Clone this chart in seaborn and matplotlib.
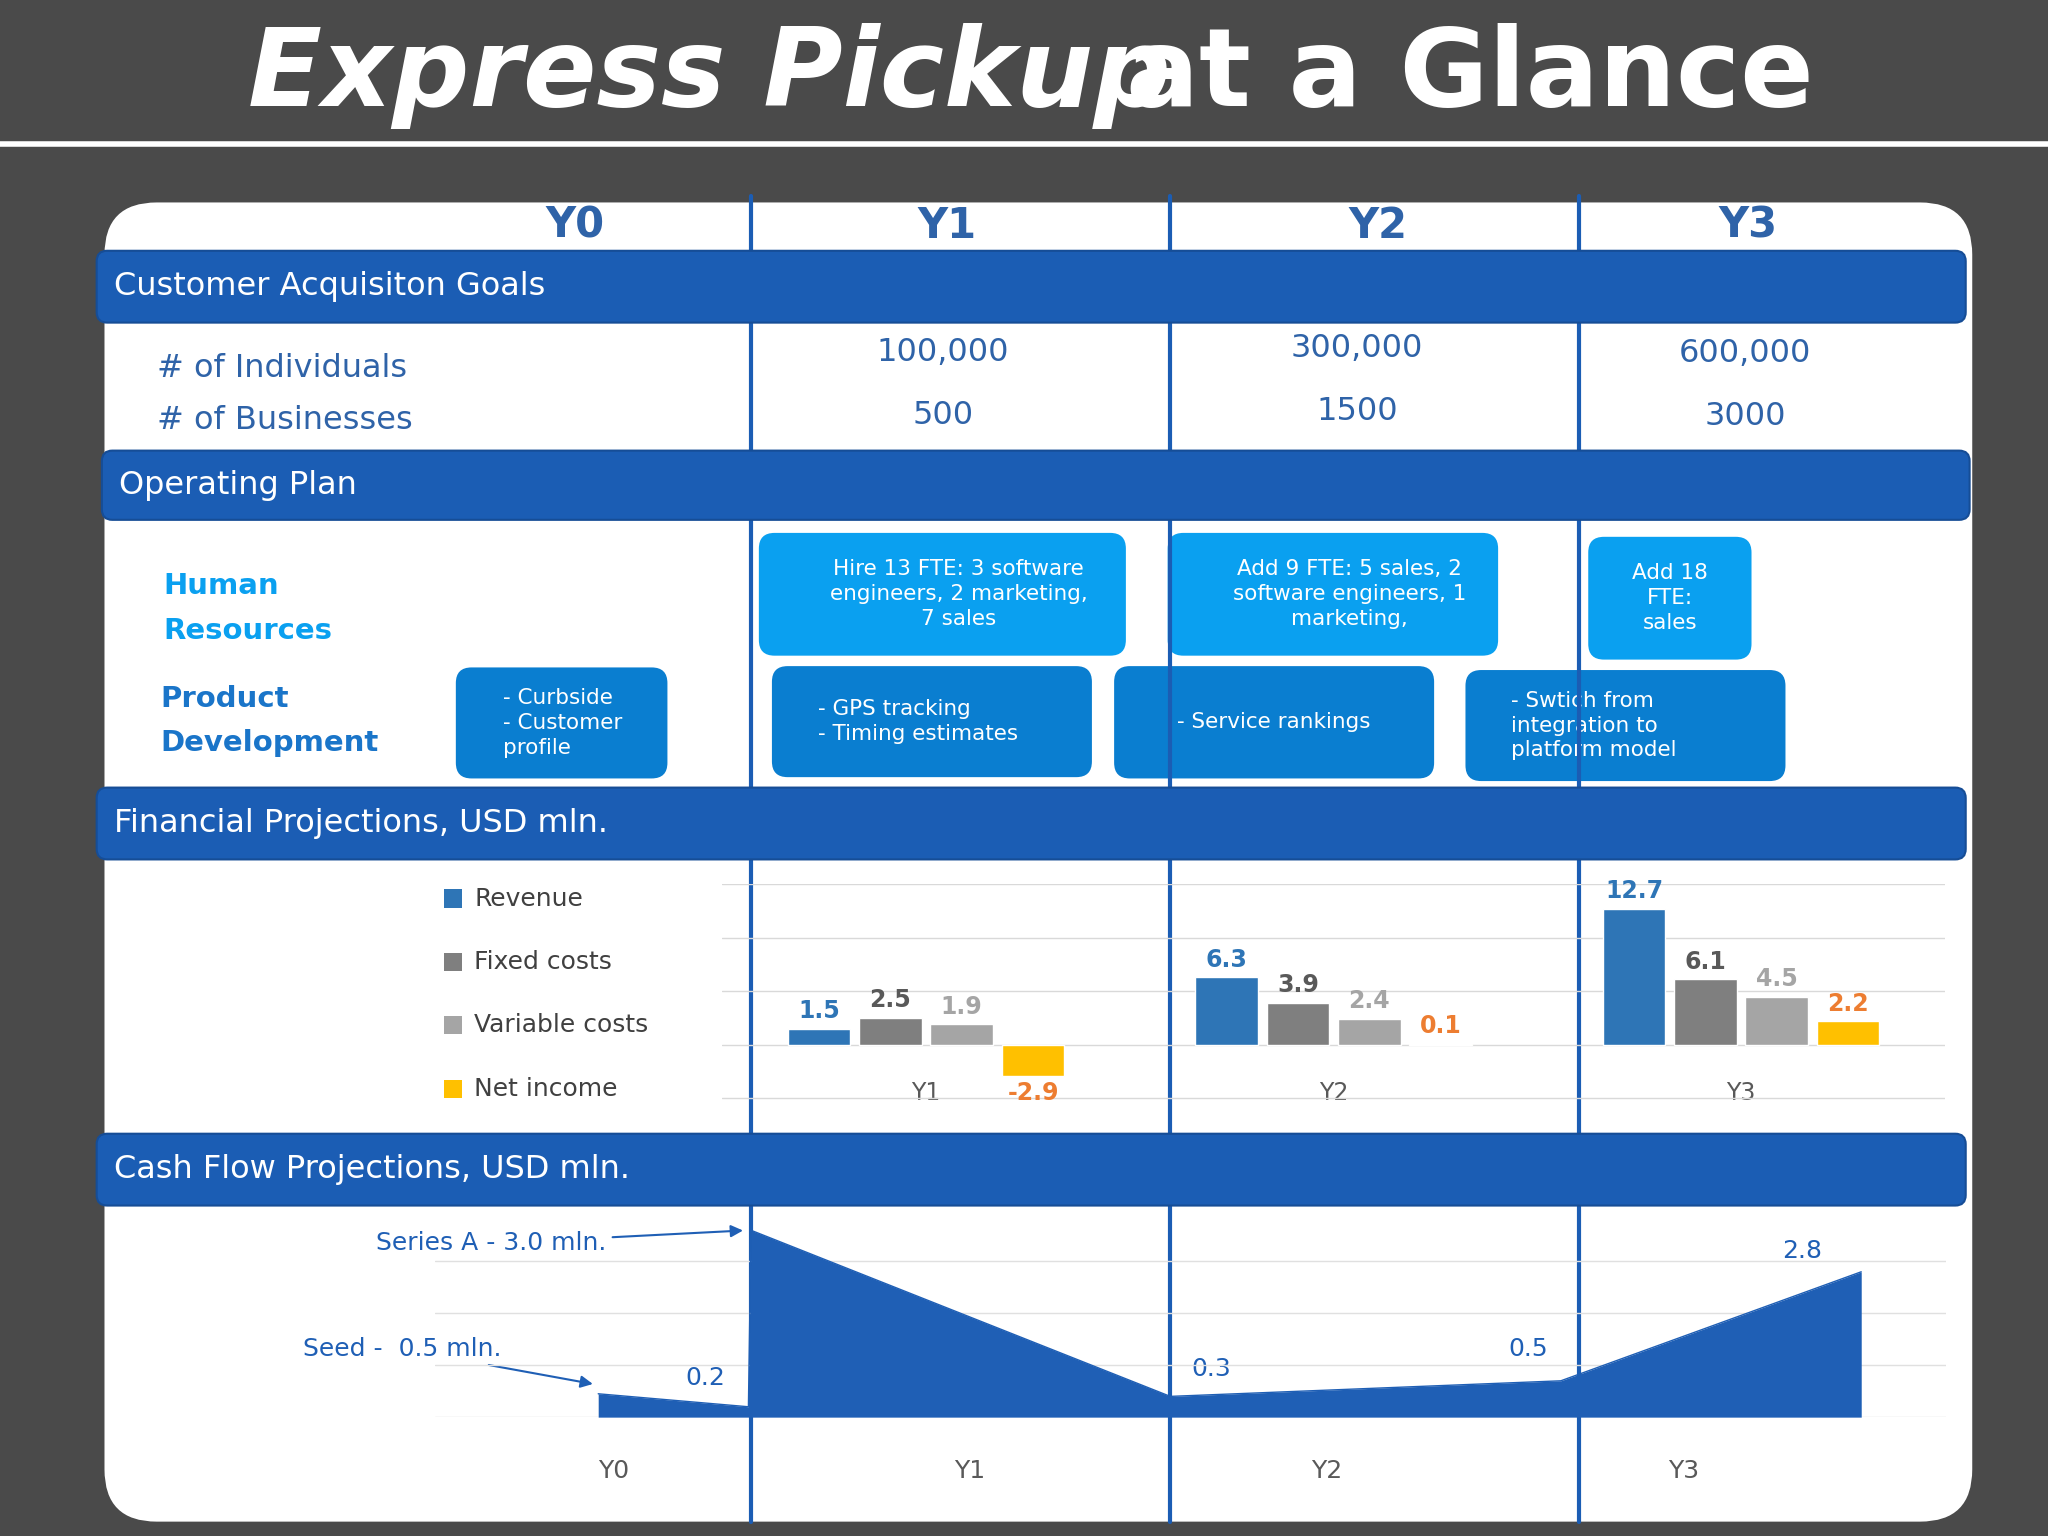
import numpy as np
import pandas as pd
import matplotlib
matplotlib.use("Agg")
from matplotlib import pyplot as plt
from matplotlib.patches import FancyBboxPatch, Rectangle
import seaborn as sns

sns.set_theme(style="white")
plt.rcParams['font.family'] = ['DejaVu Sans']

# ---- data ----
years = ["Y0", "Y1", "Y2", "Y3"]
individuals = ["100,000", "300,000", "600,000"]
businesses = ["500", "1500", "3000"]

bar_years = ["Y1", "Y2", "Y3"]
bar_series = ["Revenue", "Fixed costs", "Variable costs", "Net income"]
revenue = [1.5, 6.3, 12.7]
fixed_costs = [2.5, 3.9, 6.1]
variable_costs = [1.9, 2.4, 4.5]
net_income = [-2.9, 0.1, 2.2]

# cash flow outline (x in layout units, y in USD mln)
cash_x = [458, 573, 575, 896, 1195, 1425]
cash_y = [0.45, 0.2, 3.6, 0.4, 0.7, 2.8]
cash_labels = ["0.2", "0.3", "0.5", "2.8"]
cash_year_x = [470, 742, 1016, 1289]

W, H = 1568, 1176
BLUE = "#1b5db4"
fig = plt.figure(figsize=(20.48, 15.36), dpi=100)
fig.patch.set_facecolor("#4a4a4a")
bg = fig.add_axes([0, 0, 1, 1])
bg.set_xlim(0, W)
bg.set_ylim(H, 0)
bg.axis("off")

def frac(x0, y0, x1, y1):
    return [x0 / W, 1 - y1 / H, (x1 - x0) / W, (y1 - y0) / H]

# title
bg.text(190, 58, "Express Pickup", fontsize=78, fontweight="bold", fontstyle="italic",
        color="white", va="center", ha="left")
bg.text(862, 58, "at a Glance", fontsize=78, fontweight="bold", color="white",
        va="center", ha="left")
bg.plot([0, W], [110, 110], color="white", lw=4)

# white panel
bg.add_patch(FancyBboxPatch((80, 155), 1430, 1010, boxstyle="round,pad=0,rounding_size=40",
                            fc="white", ec="none"))

# year headers and dividers
for x, y in zip([440, 725, 1055, 1338], years):
    bg.text(x, 173, y, fontsize=30, fontweight="bold", color="#2f63a8", ha="center", va="center")
for x in [575, 896, 1209]:
    bg.plot([x, x], [150, 1165], color=BLUE, lw=3, zorder=5)

# section bands
def band(y0, y1, x0, x1, label):
    bg.add_patch(FancyBboxPatch((x0, y0), x1 - x0, y1 - y0,
                                boxstyle="round,pad=0,rounding_size=8",
                                fc=BLUE, ec="#164d96", lw=1.5, zorder=6))
    bg.text(x0 + 13, (y0 + y1) / 2, label, fontsize=23, color="white", va="center", zorder=7)

band(192, 247, 74, 1505, "Customer Acquisiton Goals")
band(345, 398, 78, 1508, "Operating Plan")
band(603, 658, 74, 1505, "Financial Projections, USD mln.")
band(868, 923, 74, 1505, "Cash Flow Projections, USD mln.")

# acquisition rows
bg.text(120, 282, "# of Individuals", fontsize=23, color="#2f63a8", va="center")
bg.text(120, 322, "# of Businesses", fontsize=23, color="#2f63a8", va="center")
for x, a, b, ya, yb in zip([722, 1039, 1336], individuals, businesses,
                           [270, 267, 271], [318, 315, 319]):
    bg.text(x, ya, a, fontsize=23, color="#2f63a8", ha="center", va="center")
    bg.text(x, yb, b, fontsize=23, color="#2f63a8", ha="center", va="center")

# operating plan
bg.text(125, 449, "Human", fontsize=21, fontweight="bold", color="#0aa0f0", va="center")
bg.text(125, 483, "Resources", fontsize=21, fontweight="bold", color="#0aa0f0", va="center")
bg.text(123, 535, "Product", fontsize=21, fontweight="bold", color="#1a75c9", va="center")
bg.text(123, 569, "Development", fontsize=21, fontweight="bold", color="#1a75c9", va="center")

def box(x0, y0, x1, y1, color, text, tx=None, ha="center"):
    bg.add_patch(FancyBboxPatch((x0, y0), x1 - x0, y1 - y0,
                                boxstyle="round,pad=0,rounding_size=12", fc=color, ec="none"))
    bg.text(tx if tx else (x0 + x1) / 2, (y0 + y1) / 2, text, fontsize=15.5, color="white",
            ha=ha, va="center", multialignment="center" if ha == "center" else "left",
            linespacing=1.3)

HR_C, PD_C = "#0aa0f0", "#0a7ed0"
box(581, 408, 862, 502, HR_C, "Hire 13 FTE: 3 software\nengineers, 2 marketing,\n7 sales", tx=734)
box(894, 408, 1147, 502, HR_C, "Add 9 FTE: 5 sales, 2\nsoftware engineers, 1\nmarketing,", tx=1033)
box(1216, 411, 1341, 505, HR_C, "Add 18\nFTE:\nsales")
box(349, 511, 511, 596, PD_C, "- Curbside\n- Customer\nprofile", tx=385, ha="left")
box(591, 510, 836, 595, PD_C, "- GPS tracking\n- Timing estimates", tx=626, ha="left")
box(853, 510, 1098, 596, PD_C, "- Service rankings")
box(1122, 513, 1367, 598, PD_C, "- Swtich from\nintegration to\nplatform model", tx=1157, ha="left")

# ---- financial bar chart ----
colors = ["#2e75b6", "#7f7f7f", "#a5a5a5", "#ffc000"]
label_colors = ["#2e75b6", "#595959", "#a5a5a5", "#ed7d31"]
df = pd.DataFrame({
    "year": bar_years * 4,
    "series": np.repeat(bar_series, 3),
    "value": revenue + fixed_costs + variable_costs + net_income,
})
ax = fig.add_axes(frac(553, 677, 1489, 862))
sns.barplot(data=df, x="year", y="value", hue="series", palette=colors, ax=ax,
            width=0.7, gap=0.12, legend=False, saturation=1)
ax.set_ylim(-7.6, 15)
ax.set_yticks([-5, 0, 5, 10, 15])
ax.yaxis.grid(True, color="#d9d9d9", lw=1)
ax.set_axisbelow(True)
ax.tick_params(axis="y", left=False, labelleft=False)
ax.tick_params(axis="x", length=0, labelsize=17, labelcolor="#595959", pad=-32)
ax.set_xlabel("")
ax.set_ylabel("")
for s in ax.spines.values():
    s.set_visible(False)
ax.patch.set_alpha(0)
for cont, lc in zip(ax.containers, label_colors):
    ax.bar_label(cont, fmt="%.1f", padding=4, fontsize=17, fontweight="bold", color=lc)

for i, (s, c) in enumerate(zip(bar_series, colors)):
    y = 688 + i * 48.5
    bg.add_patch(Rectangle((340, y - 7), 14, 14, fc=c, ec="none"))
    bg.text(363, y, s, fontsize=18, color="#404040", va="center")

# ---- cash flow area ----
ax2 = fig.add_axes(frac(333, 930, 1490, 1085))
cf = pd.DataFrame({"x": cash_x, "y": cash_y})
sns.lineplot(data=cf, x="x", y="y", ax=ax2, color="#1f5fb5", lw=1)
ax2.fill_between(cf["x"], 0, cf["y"], color="#1f5fb5", lw=0)
ax2.set_xlim(333, 1490)
ax2.set_ylim(0, 3.9)
ax2.set_yticks([0, 1, 2, 3])
ax2.yaxis.grid(True, color="#e0e0e0", lw=1)
ax2.set_axisbelow(True)
ax2.tick_params(left=False, labelleft=False, bottom=False, labelbottom=False)
ax2.set_xlabel("")
ax2.set_ylabel("")
for s in ax2.spines.values():
    s.set_visible(False)
ax2.patch.set_alpha(0)

for (x, y), t in zip([(540, 1055), (927, 1048), (1170, 1033), (1380, 958)], cash_labels):
    bg.text(x, y, t, fontsize=18, color="#1f5fb5", ha="center", va="center")
for x, y in zip(cash_year_x, years):
    bg.text(x, 1126, y, fontsize=18, color="#595959", ha="center", va="center")

bg.annotate("Series A - 3.0 mln.", xy=(571, 942), xytext=(288, 952), fontsize=18,
            color="#1f5fb5", va="center",
            arrowprops=dict(arrowstyle="-|>", color="#1f5fb5", lw=1.5))
bg.annotate("Seed -  0.5 mln.", xy=(456, 1060), xytext=(232, 1033), fontsize=18,
            color="#1f5fb5", va="center",
            arrowprops=dict(arrowstyle="-|>", color="#1f5fb5", lw=1.5))

fig.savefig("out.png", dpi=100, facecolor=fig.get_facecolor())
